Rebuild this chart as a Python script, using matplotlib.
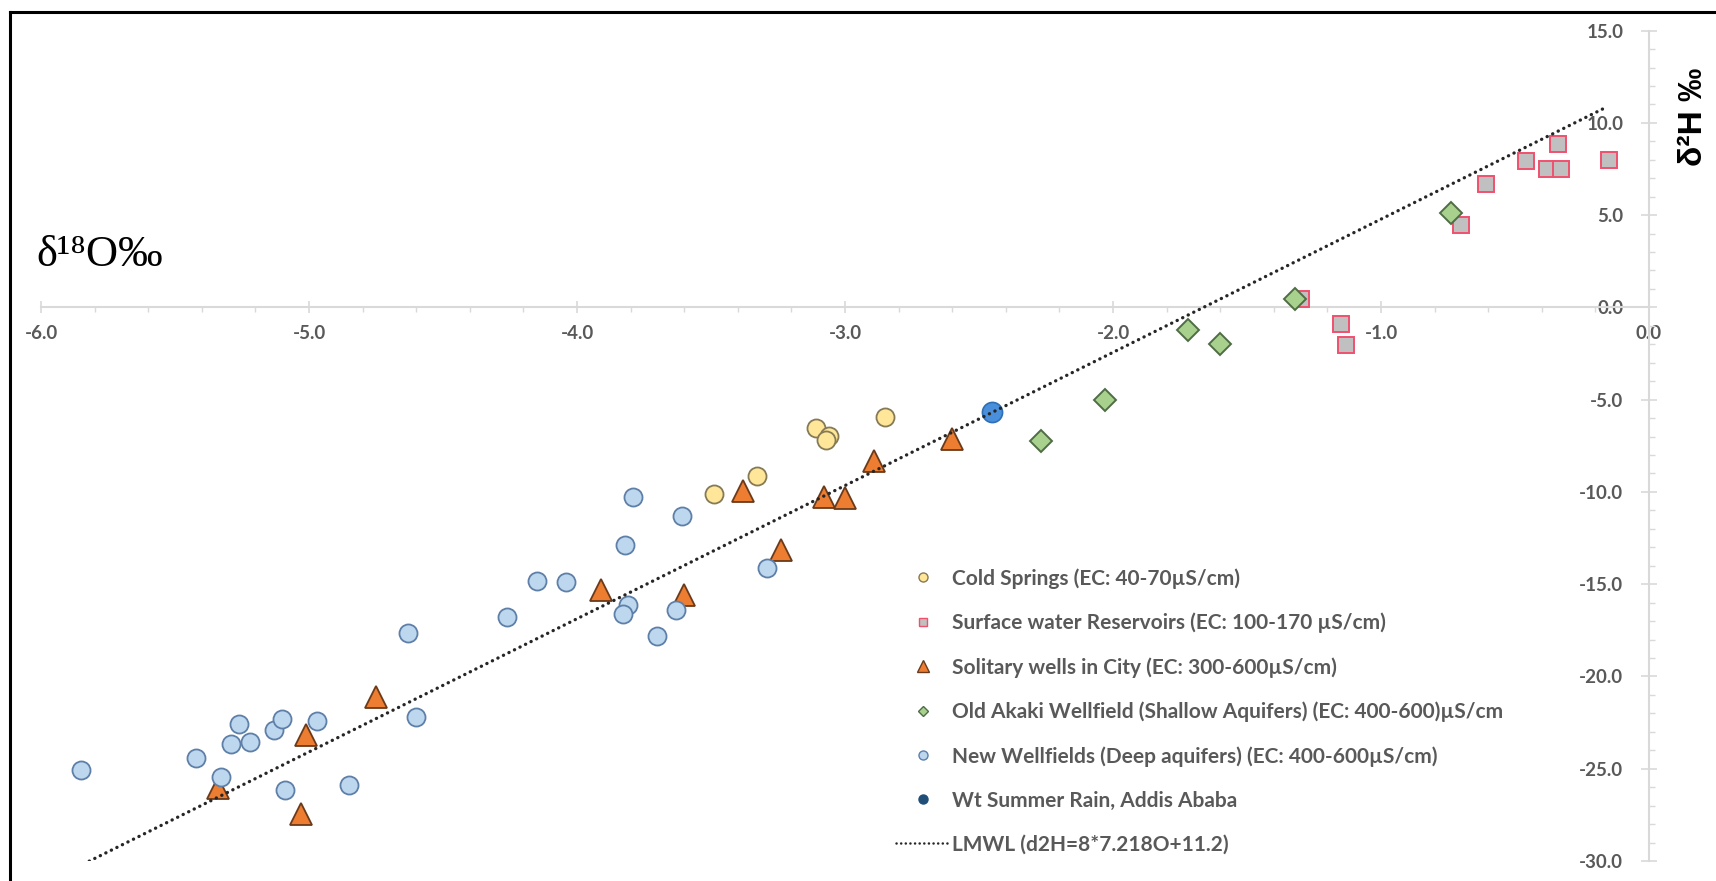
import matplotlib
matplotlib.use("Agg")
import matplotlib.pyplot as plt
import numpy as np
from matplotlib.lines import Line2D
from matplotlib.ticker import MultipleLocator, FormatStrFormatter

# isotope data: delta 18O (x) and delta 2H (y), per mille
cold_x = [-2.85, -3.11, -3.06, -3.07, -3.33, -3.49]
cold_y = [-5.95, -6.55, -6.96, -7.18, -9.13, -10.10]

surface_x = [-0.34, -0.46, -0.38, -0.33, -0.15, -0.61, -0.70, -1.30, -1.15, -1.13]
surface_y = [8.84, 7.95, 7.49, 7.49, 7.99, 6.69, 4.47, 0.44, -0.91, -2.03]

solitary_x = [-2.60, -2.89, -3.08, -3.00, -3.38, -3.24, -3.60, -3.91, -4.75, -5.01, -5.03, -5.34]
solitary_y = [-7.12, -8.35, -10.28, -10.34, -9.94, -13.17, -15.57, -15.34, -21.12, -23.16, -27.45, -26.05]

akaki_x = [-0.74, -1.32, -1.72, -1.60, -2.03, -2.27]
akaki_y = [5.14, 0.48, -1.22, -1.99, -5.01, -7.23]

new_x = [-5.85, -5.42, -5.33, -5.29, -5.22, -5.26, -5.13, -5.10, -4.97, -5.09, -4.85, -4.60,
         -4.63, -4.26, -4.15, -4.04, -3.79, -3.61, -3.82, -3.81, -3.83, -3.63, -3.70, -3.29]
new_y = [-25.05, -24.42, -25.47, -23.66, -23.55, -22.56, -22.89, -22.31, -22.44, -26.14, -25.87, -22.17,
         -17.62, -16.80, -14.80, -14.89, -10.25, -11.33, -12.87, -16.12, -16.60, -16.39, -17.80, -14.13]

rain_x = [-2.45]
rain_y = [-5.68]

lmwl_range = [-5.82, -0.16]
lmwl_slope = 7.218
lmwl_intercept = 12.0

labels = [
    "Cold Springs (EC: 40-70\u00b5S/cm)",
    "Surface water Reservoirs (EC: 100-170 \u00b5S/cm)",
    "Solitary wells in City (EC: 300-600\u00b5S/cm)",
    "Old Akaki Wellfield (Shallow Aquifers) (EC: 400-600)\u00b5S/cm",
    "New Wellfields (Deep aquifers) (EC: 400-600\u00b5S/cm)",
    "Wt Summer Rain, Addis Ababa",
    "LMWL (d2H=8*7.218O+11.2)",
]

grey = "#595959"
axis_col = "#d9d9d9"
font = ["Lato", "DejaVu Sans"]

fig = plt.figure(figsize=(17.16, 8.81), dpi=100)
W, H = 1716, 881
ax = fig.add_axes([41 / W, (H - 861) / H, (1649 - 41) / W, (861 - 30.6) / H])

styles = [
    dict(marker="o", ms=13, mfc="#ffe699", mec="#857a55", mew=1.3),
    dict(marker="s", ms=11, mfc="#c0c0c0", mec="#f0506e", mew=1.4),
    dict(marker="^", ms=16, mfc="#ed7d31", mec="#6b3a1a", mew=1.3),
    dict(marker="D", ms=11, mfc="#a9d18e", mec="#4f6d45", mew=1.4),
    dict(marker="o", ms=13, mfc="#bdd7ee", mec="#5e7fa8", mew=1.3),
    dict(marker="o", ms=14.5, mfc="#4a8fdb", mec="#2e6fb6", mew=1.2),
]
series = [(cold_x, cold_y), (surface_x, surface_y), (solitary_x, solitary_y),
          (akaki_x, akaki_y), (new_x, new_y), (rain_x, rain_y)]
for (xs, ys), st in zip(series, styles):
    ax.plot(xs, ys, linestyle="none", zorder=3, **st)

lx = np.array(lmwl_range)
ax.plot(lx, lmwl_slope * lx + lmwl_intercept, color="#262626", lw=2.4,
        linestyle=(0, (0.05, 1.8)), dash_capstyle="round", zorder=4)

ax.set_xlim(-6, 0)
ax.set_ylim(-30, 15)
for s in ["top", "right"]:
    ax.spines[s].set_visible(False)
ax.spines["left"].set_position(("data", 0))
ax.spines["bottom"].set_position(("data", 0))
for s in ["left", "bottom"]:
    ax.spines[s].set_color(axis_col)
    ax.spines[s].set_linewidth(1.5)

ax.xaxis.set_major_locator(MultipleLocator(1))
ax.xaxis.set_minor_locator(MultipleLocator(0.2))
ax.yaxis.set_major_locator(MultipleLocator(5))
ax.yaxis.set_minor_locator(MultipleLocator(1))
ax.xaxis.set_major_formatter(FormatStrFormatter("%.1f"))
ax.yaxis.set_major_formatter(FormatStrFormatter("%.1f"))

ax.tick_params(axis="x", which="major", direction="inout", length=9, width=1.2,
               color=axis_col, pad=8, labelsize=13.5, labelcolor=grey)
ax.tick_params(axis="x", which="minor", direction="out", length=3.5, width=1.0, color=axis_col)
ax.tick_params(axis="y", which="major", direction="inout", length=11, width=1.2,
               color=axis_col, pad=13, labelsize=13.5, labelcolor=grey)
ax.tick_params(axis="y", which="minor", direction="in", length=4, width=1.0, color=axis_col)
for t in ax.get_xticklabels() + ax.get_yticklabels():
    t.set_family(font)
    t.set_fontweight("bold")
ax.patch.set_alpha(0)

# legend with small markers
handles = [Line2D([], [], linestyle="none", marker=st["marker"], ms=st["ms"] * 0.5,
                  mfc=st["mfc"], mec=st["mec"], mew=1.0) for st in styles[:5]]
handles.append(Line2D([], [], linestyle="none", marker="o", ms=6.5, mfc="#1f4e79", mec="#1f4e79"))
handles.append(Line2D([], [], color="#262626", lw=1.8, linestyle=(0, (0.05, 1.8)),
                      dash_capstyle="round"))
leg = fig.legend(handles, labels, loc="upper left", bbox_to_anchor=(896 / W, 1 - 568 / H),
                 frameon=False, borderpad=0, borderaxespad=0, handlelength=2.6,
                 handletextpad=0.1, labelspacing=1.15,
                 prop=dict(family=font, size=15, weight="bold"))
for t in leg.get_texts():
    t.set_color(grey)

fig.text(36 / W, 1 - 266 / H, "\u03b4\u00b9\u2078O\u2030", ha="left", va="baseline",
         fontsize=32, family=["Liberation Serif", "DejaVu Serif"], color="black")
fig.text(1694 / W, 1 - 117 / H, "\u03b4\u00b2H \u2030", ha="center", va="center", rotation=90,
         fontsize=24, weight="bold", family=["Liberation Sans", "DejaVu Sans"], color="black")

# frame edge
fig.add_artist(Line2D([10 / W, 10 / W], [0, 1 - 12 / H], color="black", lw=2.2,
                      transform=fig.transFigure))
fig.add_artist(Line2D([10 / W, 1], [1 - 12 / H, 1 - 12 / H], color="black", lw=2.2,
                      transform=fig.transFigure))

fig.savefig("out.png", dpi=100)
